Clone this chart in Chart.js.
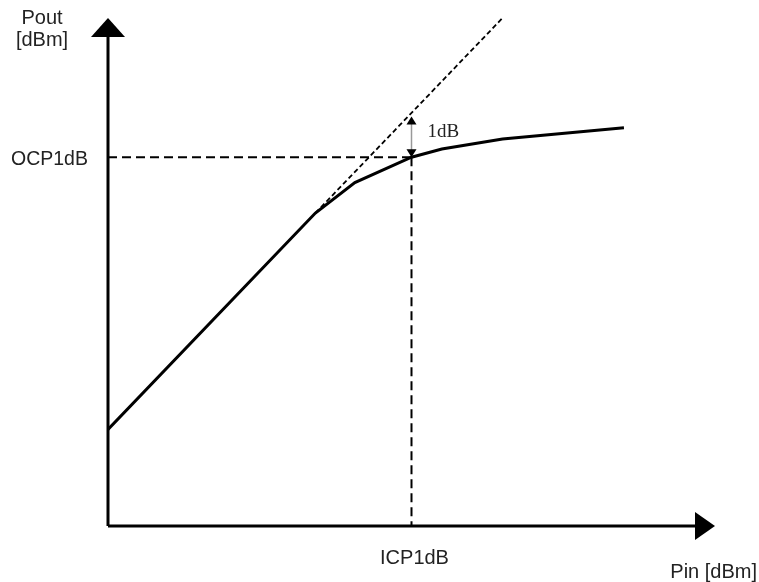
<!DOCTYPE html>
<html>
<head>
<meta charset="utf-8">
<script src="https://cdn.jsdelivr.net/npm/chart.js@4/dist/chart.umd.min.js"></script>
<style>
  body { margin: 0; background: #fff; }
  #wrap { width: 759px; height: 582px; }
</style>
</head>
<body>
<div id="wrap"><canvas id="c" width="759" height="582"></canvas></div>
<script>
// datos de la curva (Pin -> Pout)
const pinIn = [0, 20.5, 24.4, 30, 33, 39, 51];
const poutOut = [9.5, 30.8, 33.8, 36.3, 37.1, 38.1, 39.2];
// respuesta lineal ideal
const idealIn = [20.5, 39];
const idealOut = [30.8, 50];
// punto de compresion 1dB
const icp = 30;
const ocp = 36.3;
const ocpIdeal = 40.3;

const xy = (xs, ys) => xs.map((x, i) => ({ x: x, y: ys[i] }));

// ejes con flechas y textos
const decoPlugin = {
    id: 'deco',
    afterDatasetsDraw(chart) {
        const ctx = chart.ctx;
        const sx = chart.scales.x, sy = chart.scales.y;
        const x0 = sx.getPixelForValue(0), y0 = sy.getPixelForValue(0);
        const xEnd = sx.right, yEnd = sy.top;
        ctx.save();
        ctx.strokeStyle = '#000';
        ctx.fillStyle = '#000';
        ctx.lineWidth = 3;
        ctx.beginPath();
        ctx.moveTo(x0, y0);
        ctx.lineTo(xEnd - 16, y0);
        ctx.moveTo(x0, y0);
        ctx.lineTo(x0, yEnd + 16);
        ctx.stroke();
        // flecha x
        ctx.beginPath();
        ctx.moveTo(xEnd, y0);
        ctx.lineTo(xEnd - 20, y0 - 14);
        ctx.lineTo(xEnd - 20, y0 + 14);
        ctx.closePath();
        ctx.fill();
        // flecha y
        ctx.beginPath();
        ctx.moveTo(x0, yEnd);
        ctx.lineTo(x0 - 17, yEnd + 19);
        ctx.lineTo(x0 + 17, yEnd + 19);
        ctx.closePath();
        ctx.fill();

        // flecha doble 1dB
        const ax = sx.getPixelForValue(icp);
        const a1 = sy.getPixelForValue(ocp), a2 = sy.getPixelForValue(ocpIdeal);
        ctx.strokeStyle = '#999';
        ctx.lineWidth = 1.5;
        ctx.beginPath();
        ctx.moveTo(ax, a1 - 6);
        ctx.lineTo(ax, a2 + 6);
        ctx.stroke();
        ctx.beginPath();
        ctx.moveTo(ax, a2);
        ctx.lineTo(ax - 5, a2 + 8);
        ctx.lineTo(ax + 5, a2 + 8);
        ctx.closePath();
        ctx.moveTo(ax, a1);
        ctx.lineTo(ax - 5, a1 - 8);
        ctx.lineTo(ax + 5, a1 - 8);
        ctx.closePath();
        ctx.fill();

        // textos
        ctx.fillStyle = '#222';
        ctx.font = '19px "Liberation Serif", serif';
        ctx.textAlign = 'left';
        ctx.textBaseline = 'alphabetic';
        ctx.fillText('1dB', ax + 16, a2 + 20);
        ctx.font = '19.5px "Liberation Sans", Arial, sans-serif';
        ctx.fillText('OCP1dB', 11, sy.getPixelForValue(ocp) + 8);
        ctx.font = '20px "Liberation Sans", Arial, sans-serif';
        ctx.textAlign = 'center';
        ctx.fillText('ICP1dB', ax + 3, 564);
        ctx.fillText('Pout', 42, 24);
        ctx.fillText('[dBm]', 42, 46);
        ctx.textAlign = 'right';
        ctx.fillText('Pin [dBm]', 757, 578);
        ctx.restore();
    }
};

new Chart(document.getElementById('c'), {
    type: 'scatter',
    data: {
        datasets: [
            { data: xy(pinIn, poutOut), showLine: true, borderColor: '#000', borderWidth: 3,
              pointRadius: 0, tension: 0 },
            { data: xy(idealIn, idealOut), showLine: true, borderColor: '#000', borderWidth: 1.8,
              borderDash: [5, 3], pointRadius: 0 },
            { data: xy([0, icp], [ocp, ocp]), showLine: true, borderColor: '#000', borderWidth: 2,
              borderDash: [9, 5], pointRadius: 0 },
            { data: xy([icp, icp], [ocp, 0]), showLine: true, borderColor: '#000', borderWidth: 2,
              borderDash: [9, 5], pointRadius: 0 }
        ]
    },
    options: {
        responsive: false,
        animation: false,
        layout: { padding: { left: 108, right: 44, top: 18, bottom: 56 } },
        plugins: { legend: { display: false }, tooltip: { enabled: false } },
        scales: {
            x: { type: 'linear', min: 0, max: 60, display: false },
            y: { type: 'linear', min: 0, max: 50, display: false }
        }
    },
    plugins: [decoPlugin]
});
</script>
</body>
</html>
